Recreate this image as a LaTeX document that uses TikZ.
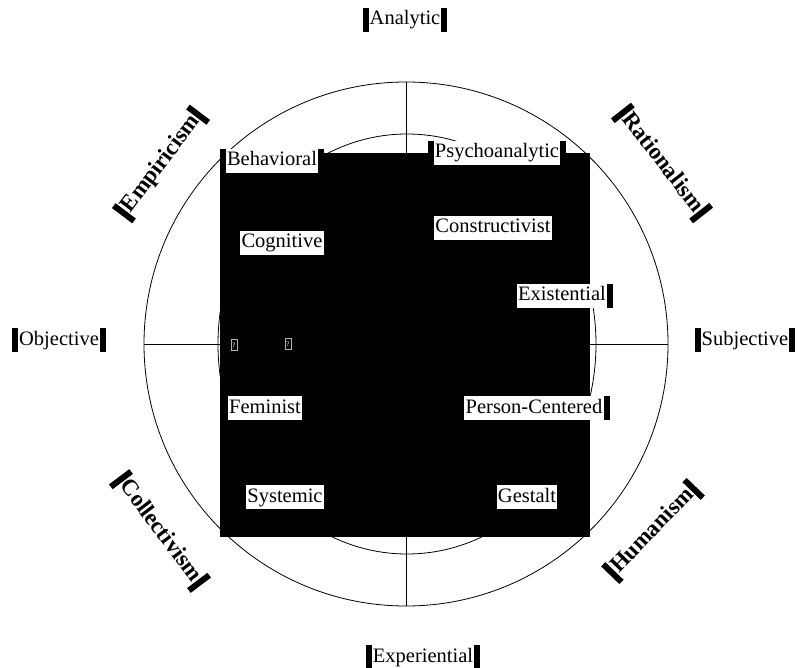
\documentclass[tikz,border=0pt]{standalone}
\usepackage{fontspec}
\setmainfont{Liberation Serif}
\usepackage{tikz}
\tikzstyle{barra}=[draw=black, line width=6pt]
\tikzstyle{etiqueta}=[fill=white, inner xsep=4pt, inner ysep=2pt, text height=15pt, text depth=5pt,
  font=\fontsize{20.5}{22}\selectfont,
  append after command={\pgfextra{\let\nodo=\tikzlastnode}
    (\nodo.north west) edge[barra] (\nodo.south west)
    (\nodo.north east) edge[barra] (\nodo.south east)}]
\tikzstyle{escuela}=[etiqueta, text height=16pt, font=\fontsize{23}{25}\selectfont\bfseries]
\tikzstyle{falta}=[draw=white!70!black, inner sep=0.5pt, minimum width=6pt, minimum height=11pt,
  text=white, font=\fontsize{7}{7}\selectfont]

\begin{document}
\begin{tikzpicture}[x=1pt, y=-1pt]
            \useasboundingbox (0,0) rectangle (798,668);
            % círculos y ejes
            \coordinate (arriba) at (406,82);
            \coordinate (abajo) at (406,606);
            \coordinate (izq) at (144,344);
            \coordinate (der) at (668,344);
            \draw[line width=0.8] (406,344) circle (262);
            \draw[line width=0.8] (arriba) -- (abajo);
            \draw[line width=0.8] (izq) -- (der);
            \draw[line width=0.8] (407,344) ellipse (189 and 210);

            % bloque negro
            \fill[black] (220,153) rectangle (590,537);
            \node[falta] (f1) at (234,345) {?};
            \node[falta] (f2) at (288,344) {?};

            % dimensiones
            \node[etiqueta] (an) at (405,20) {Analytic};
            \node[etiqueta] (ob) at (59,340) {Objective};
            \node[etiqueta] (su) at (745,340) {Subjective};
            \node[etiqueta] (ex) at (423,657) {Experiential};

            % escuelas
            \node[escuela, rotate=53] (em) at (161,164) {Empiricism};
            \node[escuela, rotate=-52] (ra) at (662,163) {Rationalism};
            \node[escuela, rotate=-53] (co) at (160,531) {Collectivism};
            \node[escuela, rotate=46] (hu) at (653,531) {Humanism};

            % enfoques
            \node[etiqueta] (be) at (272,161) {Behavioral};
            \node[etiqueta] (ps) at (497,153) {Psychoanalytic};
            \node[etiqueta] (cg) at (282,243) {Cognitive};
            \node[etiqueta] (cn) at (493,228) {Constructivist};
            \node[etiqueta] (es) at (562,296) {Existential};
            \node[etiqueta] (fe) at (265,408) {Feminist};
            \node[etiqueta] (pc) at (534,408) {Person-Centered};
            \node[etiqueta] (sy) at (285,497) {Systemic};
            \node[etiqueta] (ge) at (527,497) {Gestalt};
        \end{tikzpicture}
\end{document}
